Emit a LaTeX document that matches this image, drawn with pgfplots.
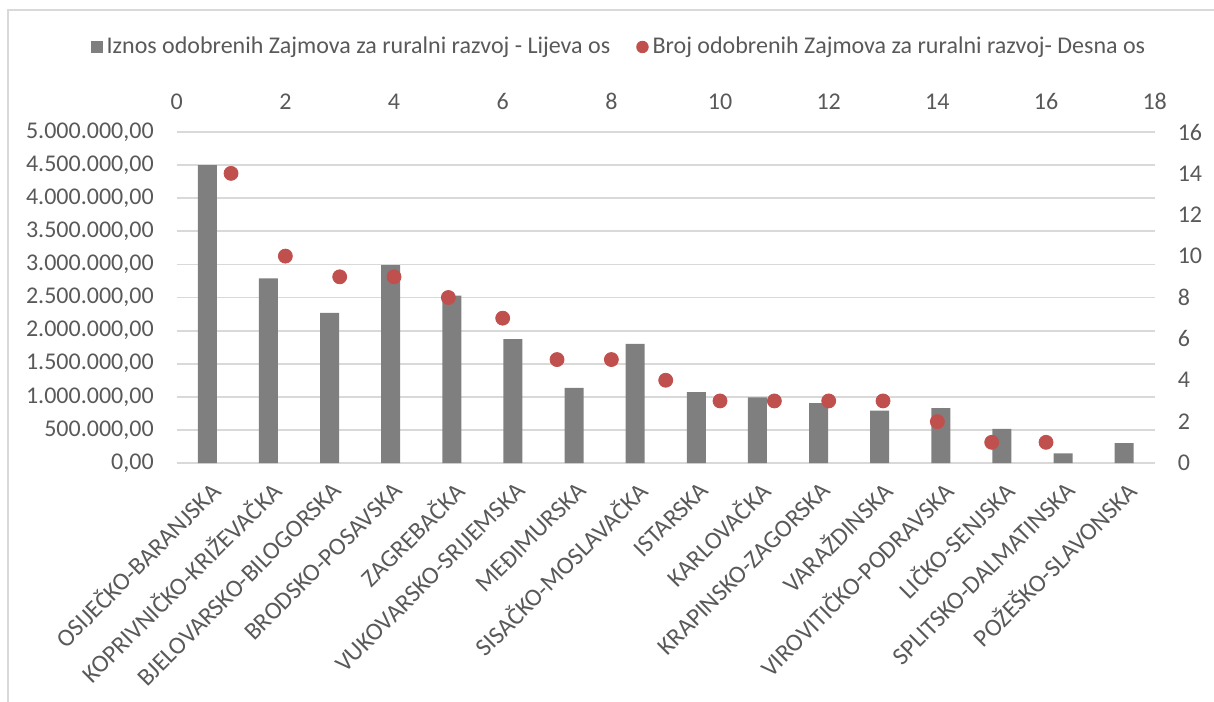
\documentclass[border=0pt]{standalone}
\usepackage{pgfplots}
\pgfplotsset{compat=1.18}
\usepackage{fontspec}
\setmainfont{Carlito}
\definecolor{barcol}{HTML}{7F7F7F}
\definecolor{dotcol}{HTML}{C0504D}
\definecolor{txt}{HTML}{595959}
\definecolor{gridc}{HTML}{D9D9D9}
\newcommand{\lblfont}{\fontsize{12bp}{14.4bp}\selectfont}
\newcommand{\catfont}{\fontsize{12.4bp}{14.8bp}\selectfont}
\begin{document}
\begin{tikzpicture}
\useasboundingbox (-88.35bp,-119.5bp) rectangle (518.65bp,231.5bp);
\draw[gridc, line width=0.75bp] (-84.35bp,-130bp) -- (-84.35bp,226.5bp) -- (540bp,226.5bp);
\begin{axis}[
  at={(0,0)}, anchor=south west,
  scale only axis, width=489bp, height=165.5bp,
  xmin=0, xmax=16, ymin=0, ymax=5000000,
  axis line style={draw=none},
  major tick length=0pt,
  ytick={0,500000,1000000,1500000,2000000,2500000,3000000,3500000,4000000,4500000,5000000},
  scaled y ticks=false,
  yticklabel style={/pgf/number format/.cd, fixed, fixed zerofill, precision=2, 1000 sep={.}, use comma, assume math mode=true,
     /tikz/.cd, font=\lblfont, text=txt, xshift=-8bp},
  ymajorgrids,
  grid style={gridc, line width=0.9bp},
  xtick={0.5,1.5,2.5,3.5,4.5,5.5,6.5,7.5,8.5,9.5,10.5,11.5,12.5,13.5,14.5,15.5},
  xticklabels={OSIJEČKO-BARANJSKA,KOPRIVNIČKO-KRIŽEVAČKA,BJELOVARSKO-BILOGORSKA,BRODSKO-POSAVSKA,ZAGREBAČKA,VUKOVARSKO-SRIJEMSKA,MEĐIMURSKA,SISAČKO-MOSLAVAČKA,ISTARSKA,KARLOVAČKA,KRAPINSKO-ZAGORSKA,VARAŽDINSKA,VIROVITIČKO-PODRAVSKA,LIČKO-SENJSKA,SPLITSKO-DALMATINSKA,POŽEŠKO-SLAVONSKA},
  xticklabel style={rotate=45, anchor=east, font=\catfont, text=txt, xshift=-2bp, yshift=-11bp},
]
\addplot[ybar, bar width=9.5bp, fill=barcol, draw=none] coordinates {
(0.5,4500000) (1.5,2790000) (2.5,2266000) (3.5,2990000) (4.5,2527000) (5.5,1873000)
(6.5,1135000) (7.5,1800000) (8.5,1072000) (9.5,992000) (10.5,906000) (11.5,790000)
(12.5,830000) (13.5,514000) (14.5,146000) (15.5,302000)};
\end{axis}
\begin{axis}[
  at={(0,0)}, anchor=south west,
  scale only axis, width=489bp, height=165.5bp,
  xmin=0, xmax=18, ymin=0, ymax=16,
  axis x line*=top, axis y line*=right,
  axis line style={draw=none},
  major tick length=0pt,
  xtick={0,2,4,6,8,10,12,14,16,18},
  ytick={0,2,4,6,8,10,12,14,16},
  xticklabel style={/pgf/number format/assume math mode=true, font=\lblfont, text=txt, yshift=7.8bp},
  yticklabel style={/pgf/number format/assume math mode=true, font=\lblfont, text=txt, xshift=8bp},
  legend style={at={(0.4533,1.2568)}, anchor=center, draw=none, fill=none, legend columns=2,
     font=\lblfont, text=txt, inner sep=0pt,
     /tikz/every even column/.append style={column sep=11bp}},
  legend cell align=left,
]
\addlegendimage{legend image code/.code={\fill[barcol] (0bp,-2.75bp) rectangle (5.5bp,2.75bp);}}
\addlegendentry{Iznos odobrenih Zajmova za ruralni razvoj - Lijeva os}
\addplot[only marks, mark=*, mark size=3.5bp, color=dotcol,
  legend image code/.code={\fill[dotcol] (2.9bp,0bp) circle (2.9bp);}] coordinates {
(1,14) (2,10) (3,9) (4,9) (5,8) (6,7) (7,5) (8,5) (9,4) (10,3) (11,3) (12,3) (13,3) (14,2) (15,1) (16,1)};
\addlegendentry{Broj odobrenih Zajmova za ruralni razvoj- Desna os}
\end{axis}
\end{tikzpicture}
\end{document}
